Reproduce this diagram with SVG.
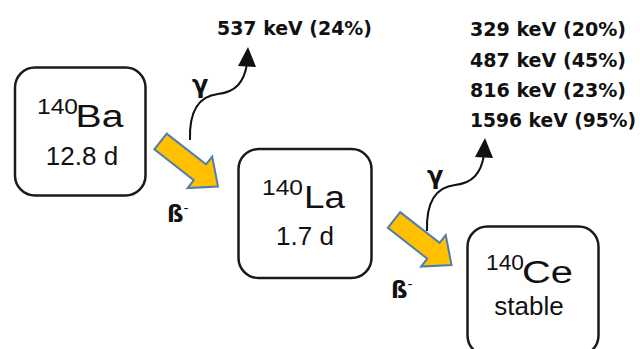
<svg xmlns="http://www.w3.org/2000/svg" xmlns:xlink="http://www.w3.org/1999/xlink" width="640" height="349" viewBox="0 0 640 349">
<style>
.box{fill:#fff;stroke:#1a1a1a;stroke-width:2.5}
.el{font-family:"Liberation Sans",Arial,sans-serif;fill:#111}
.big{font-size:31px}
.sup{font-size:22px}
.hl{font-size:26px}
.kev{font-family:"DejaVu Sans",Verdana,sans-serif;font-weight:bold;font-size:18.8px;fill:#111}
.lab{font-family:"DejaVu Sans",Verdana,sans-serif;font-weight:bold;fill:#111}
.beta{fill:#FFC000;stroke:#4f7fae;stroke-width:2;stroke-linejoin:miter}
.gline{fill:none;stroke:#111;stroke-width:2}
</style>
<defs>
<polygon id="bArrow" class="beta" points="0,-10 50,-10 50,-20 73,0 50,20 50,10 0,10"/>
<g id="gArrow">
<path class="gline" d="M0,0 C-1,-30 10,-44 28,-46 C46,-48 54,-58 57,-76"/>
<polygon points="58,-93 48,-74 66,-73" fill="#111"/>
</g>
</defs>
<rect width="640" height="349" fill="#fff"/>
<g id="connectors">
<use xlink:href="#bArrow" transform="translate(160.5,141.5) rotate(38)"/>
<use xlink:href="#bArrow" transform="translate(394,220) rotate(38)"/>
<use xlink:href="#gArrow" transform="translate(190,140)"/>
<use xlink:href="#gArrow" transform="translate(427,231)"/>
<text class="lab" x="192" y="93" font-size="24">γ</text>
<text class="lab" x="427" y="184" font-size="24">γ</text>
<text class="lab" x="167" y="222" font-size="23">ß<tspan dy="-9" font-size="14" font-weight="normal">-</tspan></text>
<text class="lab" x="391" y="298" font-size="23">ß<tspan dy="-9" font-size="14" font-weight="normal">-</tspan></text>
</g>
<g id="ba140">
<rect class="box" x="15" y="67.5" width="130.5" height="128" rx="20"/>
<text class="el sup" x="37" y="114" textLength="41" lengthAdjust="spacingAndGlyphs">140</text>
<text class="el big" x="75.5" y="126.5" textLength="48" lengthAdjust="spacingAndGlyphs">Ba</text>
<text class="el hl" x="82" y="164.5" text-anchor="middle">12.8 d</text>
</g>
<g id="la140">
<rect class="box" x="238.5" y="149" width="133" height="129" rx="20"/>
<text class="el sup" x="262" y="195" textLength="41" lengthAdjust="spacingAndGlyphs">140</text>
<text class="el big" x="304" y="208" textLength="41" lengthAdjust="spacingAndGlyphs">La</text>
<text class="el hl" x="305" y="245" text-anchor="middle">1.7 d</text>
</g>
<g id="ce140">
<rect class="box" x="467.5" y="226.5" width="131" height="129" rx="20"/>
<text class="el sup" x="486" y="270" textLength="38" lengthAdjust="spacingAndGlyphs">140</text>
<text class="el big" x="522" y="282.5" textLength="51" lengthAdjust="spacingAndGlyphs">Ce</text>
<text class="el hl" x="529" y="315" text-anchor="middle">stable</text>
</g>
<g id="gammaBa">
<text class="kev" x="217" y="35" textLength="155" lengthAdjust="spacingAndGlyphs">537 keV (24%)</text>
</g>
<g id="gammaLa">
<text class="kev" x="470" y="36" textLength="156" lengthAdjust="spacingAndGlyphs">329 keV (20%)</text>
<text class="kev" x="470" y="66.5" textLength="156" lengthAdjust="spacingAndGlyphs">487 keV (45%)</text>
<text class="kev" x="470" y="97" textLength="156" lengthAdjust="spacingAndGlyphs">816 keV (23%)</text>
<text class="kev" x="470" y="127" textLength="166" lengthAdjust="spacingAndGlyphs">1596 keV (95%)</text>
</g>
</svg>
